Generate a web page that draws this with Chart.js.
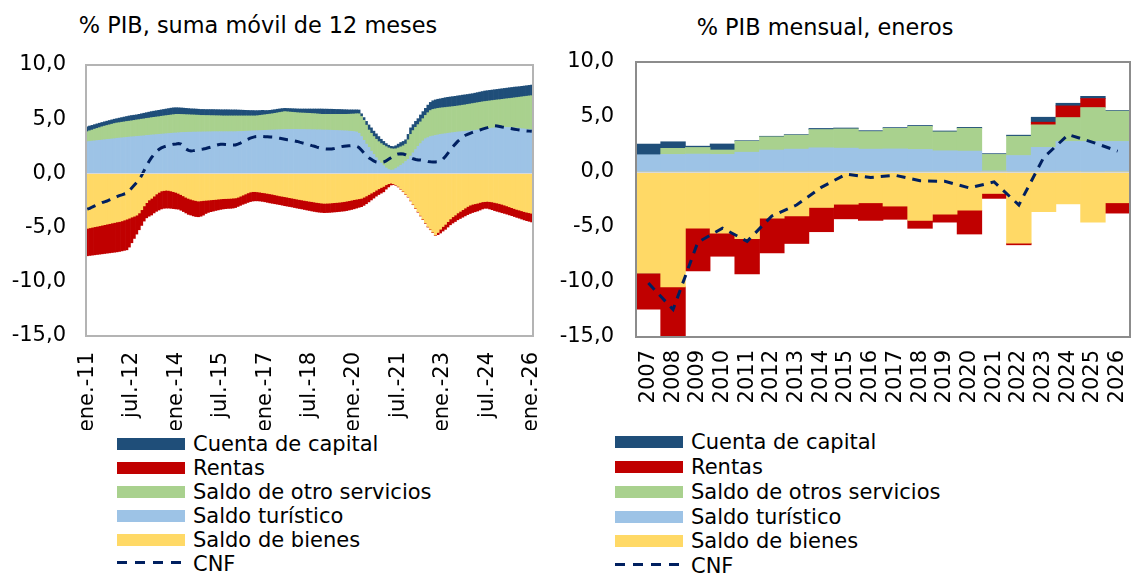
<!DOCTYPE html>
<html lang="es">
<head>
<meta charset="utf-8">
<title>Saldos de la cuenta corriente y de capital</title>
<script src="https://cdn.jsdelivr.net/npm/chart.js@4.4.1/dist/chart.umd.min.js"></script>
<style>
  body { margin: 0; background: #fff; color: #000; font-family: 'DejaVu Sans', sans-serif; }
  #hoja { position: relative; width: 1131px; height: 575px; overflow: hidden; }
  canvas { position: absolute; top: 0; }
  .titulo { position: absolute; width: 420px; font-size: 22.4px; line-height: 22.4px; text-align: center; white-space: nowrap; }
  .fila { position: absolute; height: 24px; display: flex; align-items: center; font-size: 21px; white-space: nowrap; }
  .muestra { width: 68px; height: 12px; margin-right: 8px; flex: none; }
</style>
</head>
<body>
<div id="hoja">
  <div class="titulo" style="left:48px; top:14px;">% PIB, suma móvil de 12 meses</div>
  <div class="titulo" style="left:615px; top:16px;">% PIB mensual, eneros</div>
  <canvas id="movil" width="560" height="430" style="left:0"></canvas>
  <canvas id="eneros" width="571" height="430" style="left:560px"></canvas>
  <div id="leyendaMovil"></div>
  <div id="leyendaEneros"></div>
</div>
<script>
// ====== DATOS: SUMA MÓVIL DE 12 MESES (ene-11 a ene-26) ======
const meses = ["ene.", "feb.", "mar.", "abr.", "may.", "jun.", "jul.", "ago.", "sep.", "oct.", "nov.", "dic."];
const etiquetasMes = [];
for (let a = 2011; a <= 2026; a++) {
    meses.forEach(m => etiquetasMes.push(m + "-" + String(a).slice(2)));
}
etiquetasMes.length = 181;

const bienesM = [
    -5.07, -5.02, -4.97, -4.92, -4.88, -4.83, -4.78, -4.73, -4.68, -4.63, -4.58, -4.53,
    -4.48, -4.44, -4.38, -4.3, -4.22, -4.13, -4.03, -3.95, -3.85, -3.65, -3.35, -3.0,
    -2.7, -2.45, -2.3, -2.1, -1.9, -1.75, -1.62, -1.58, -1.55, -1.57, -1.62, -1.68,
    -1.75, -1.84, -1.95, -2.07, -2.2, -2.3, -2.38, -2.45, -2.5, -2.55, -2.53, -2.5,
    -2.48, -2.46, -2.44, -2.42, -2.4, -2.37, -2.35, -2.33, -2.32, -2.31, -2.3, -2.28,
    -2.26, -2.2, -2.1, -2.0, -1.9, -1.8, -1.72, -1.68, -1.68, -1.7, -1.73, -1.77,
    -1.8, -1.84, -1.88, -1.92, -1.97, -2.02, -2.07, -2.11, -2.15, -2.19, -2.24, -2.28,
    -2.32, -2.37, -2.41, -2.45, -2.49, -2.53, -2.57, -2.6, -2.64, -2.68, -2.71, -2.74,
    -2.76, -2.75, -2.74, -2.72, -2.7, -2.68, -2.66, -2.63, -2.6, -2.56, -2.52, -2.47,
    -2.42, -2.38, -2.34, -2.3, -2.2, -2.08, -1.95, -1.82, -1.7, -1.55, -1.42, -1.3,
    -1.2, -1.05, -0.95, -0.9, -0.95, -1.05, -1.2, -1.42, -1.65, -1.9, -2.15, -2.5,
    -2.85, -3.2, -3.53, -3.88, -4.22, -4.56, -4.9, -5.15, -5.42, -5.68, -5.45, -5.15,
    -4.9, -4.7, -4.45, -4.2, -4.0, -3.84, -3.65, -3.5, -3.35, -3.2, -3.05, -2.93,
    -2.85, -2.8, -2.75, -2.68, -2.62, -2.6, -2.58, -2.6, -2.63, -2.68, -2.73, -2.78,
    -2.85, -2.92, -3.0, -3.08, -3.16, -3.24, -3.32, -3.38, -3.45, -3.52, -3.58, -3.63,
    -3.68
];
const turismoM = [
    2.93, 2.95, 2.98, 3.0, 3.03, 3.05, 3.08, 3.1, 3.13, 3.15, 3.18, 3.2,
    3.24, 3.26, 3.28, 3.3, 3.33, 3.35, 3.37, 3.39, 3.41, 3.43, 3.45, 3.47,
    3.5, 3.52, 3.54, 3.56, 3.58, 3.6, 3.62, 3.64, 3.66, 3.68, 3.7, 3.72,
    3.73, 3.75, 3.77, 3.78, 3.79, 3.8, 3.8, 3.81, 3.81, 3.82, 3.82, 3.83,
    3.83, 3.84, 3.84, 3.85, 3.85, 3.85, 3.85, 3.85, 3.85, 3.85, 3.85, 3.85,
    3.85, 3.86, 3.87, 3.88, 3.89, 3.9, 3.91, 3.92, 3.93, 3.94, 3.95, 3.96,
    3.97, 3.98, 3.99, 4.0, 4.01, 4.02, 4.03, 4.04, 4.05, 4.06, 4.06, 4.06,
    4.06, 4.06, 4.05, 4.05, 4.05, 4.04, 4.04, 4.03, 4.03, 4.02, 4.02, 4.01,
    4.0, 4.0, 3.99, 3.98, 3.97, 3.96, 3.95, 3.94, 3.93, 3.92, 3.9, 3.88,
    3.86, 3.82, 3.7, 3.4, 3.05, 2.7, 2.4, 2.05, 1.75, 1.45, 1.2, 0.95,
    0.72, 0.5, 0.35, 0.3, 0.32, 0.45, 0.6, 0.75, 0.9, 1.1, 1.3, 1.6,
    1.9, 2.2, 2.5, 2.75, 3.0, 3.2, 3.3, 3.4, 3.45, 3.5, 3.55, 3.6,
    3.63, 3.66, 3.7, 3.73, 3.76, 3.79, 3.82, 3.84, 3.86, 3.88, 3.9, 3.92,
    3.95, 3.98, 4.0, 4.03, 4.06, 4.09, 4.12, 4.15, 4.18, 4.2, 4.22, 4.24,
    4.25, 4.25, 4.24, 4.23, 4.22, 4.2, 4.18, 4.15, 4.12, 4.1, 4.07, 4.05,
    4.02
];
const otrosM = [
    0.92, 0.98, 1.02, 1.08, 1.12, 1.17, 1.22, 1.26, 1.29, 1.33, 1.36, 1.4,
    1.41, 1.42, 1.44, 1.45, 1.46, 1.47, 1.48, 1.5, 1.52, 1.53, 1.55, 1.56,
    1.57, 1.58, 1.6, 1.61, 1.62, 1.63, 1.65, 1.66, 1.67, 1.68, 1.69, 1.7,
    1.72, 1.7, 1.67, 1.65, 1.63, 1.61, 1.6, 1.58, 1.57, 1.55, 1.53, 1.52,
    1.51, 1.5, 1.49, 1.48, 1.47, 1.47, 1.46, 1.45, 1.45, 1.45, 1.45, 1.45,
    1.45, 1.44, 1.43, 1.42, 1.41, 1.4, 1.39, 1.38, 1.37, 1.38, 1.4, 1.42,
    1.44, 1.46, 1.48, 1.5, 1.53, 1.56, 1.59, 1.62, 1.65, 1.62, 1.6, 1.58,
    1.56, 1.54, 1.53, 1.52, 1.51, 1.51, 1.5, 1.49, 1.48, 1.47, 1.45, 1.44,
    1.45, 1.45, 1.46, 1.47, 1.48, 1.49, 1.5, 1.51, 1.52, 1.53, 1.56, 1.59,
    1.62, 1.68, 1.8, 1.85, 1.85, 1.75, 1.6, 1.65, 1.65, 1.7, 1.73, 1.8,
    1.88, 1.97, 2.0, 1.98, 1.93, 1.82, 1.75, 1.7, 1.65, 1.6, 1.8, 2.0,
    2.05, 2.05, 2.0, 2.0, 2.05, 2.15, 2.3, 2.4, 2.45, 2.45, 2.45, 2.43,
    2.43, 2.42, 2.41, 2.4, 2.4, 2.4, 2.4, 2.41, 2.43, 2.44, 2.46, 2.48,
    2.49, 2.5, 2.52, 2.53, 2.54, 2.54, 2.54, 2.54, 2.54, 2.55, 2.56, 2.56,
    2.58, 2.61, 2.65, 2.68, 2.72, 2.77, 2.82, 2.88, 2.94, 2.99, 3.05, 3.1,
    3.15
];
const rentasM = [
    -2.53, -2.55, -2.57, -2.59, -2.6, -2.62, -2.64, -2.66, -2.68, -2.7, -2.72, -2.74,
    -2.76, -2.76, -2.77, -2.8, -2.83, -2.67, -2.37, -2.05, -1.75, -1.55, -1.45, -1.4,
    -1.4, -1.5, -1.54, -1.55, -1.6, -1.63, -1.66, -1.64, -1.65, -1.63, -1.6, -1.57,
    -1.53, -1.46, -1.45, -1.45, -1.45, -1.48, -1.46, -1.47, -1.48, -1.45, -1.42, -1.35,
    -1.22, -1.14, -1.09, -1.06, -1.02, -1.0, -0.97, -0.95, -0.93, -0.92, -0.92, -0.92,
    -0.89, -0.85, -0.85, -0.85, -0.87, -0.88, -0.88, -0.87, -0.85, -0.83, -0.82, -0.81,
    -0.82, -0.83, -0.84, -0.84, -0.83, -0.82, -0.81, -0.82, -0.83, -0.83, -0.82, -0.82,
    -0.83, -0.83, -0.83, -0.83, -0.84, -0.85, -0.85, -0.87, -0.87, -0.87, -0.87, -0.86,
    -0.86, -0.86, -0.86, -0.86, -0.86, -0.86, -0.86, -0.86, -0.87, -0.87, -0.86, -0.86,
    -0.85, -0.82, -0.79, -0.77, -0.75, -0.72, -0.68, -0.63, -0.58, -0.55, -0.53, -0.52,
    -0.5, -0.4, -0.3, -0.17, -0.08, -0.05, -0.05, -0.04, -0.04, -0.04, -0.04, -0.04,
    -0.04, -0.04, -0.05, -0.05, -0.05, -0.05, -0.05, -0.05, -0.05, -0.04, -0.2, -0.35,
    -0.42, -0.46, -0.5, -0.54, -0.58, -0.6, -0.63, -0.66, -0.69, -0.72, -0.75, -0.77,
    -0.76, -0.74, -0.72, -0.7, -0.66, -0.62, -0.64, -0.68, -0.72, -0.75, -0.77, -0.78,
    -0.78, -0.77, -0.76, -0.75, -0.74, -0.74, -0.74, -0.75, -0.76, -0.77, -0.78, -0.79,
    -0.8
];
const capitalM = [
    0.45, 0.44, 0.43, 0.42, 0.42, 0.41, 0.4, 0.4, 0.4, 0.4, 0.4, 0.4,
    0.4, 0.42, 0.43, 0.45, 0.46, 0.48, 0.49, 0.48, 0.47, 0.49, 0.5, 0.52,
    0.53, 0.55, 0.56, 0.57, 0.58, 0.59, 0.59, 0.6, 0.61, 0.62, 0.63, 0.63,
    0.61, 0.6, 0.6, 0.59, 0.58, 0.57, 0.56, 0.56, 0.56, 0.55, 0.55, 0.55,
    0.55, 0.55, 0.56, 0.56, 0.56, 0.56, 0.56, 0.57, 0.57, 0.57, 0.56, 0.56,
    0.56, 0.55, 0.54, 0.53, 0.52, 0.51, 0.5, 0.5, 0.49, 0.47, 0.45, 0.44,
    0.39, 0.36, 0.35, 0.35, 0.34, 0.34, 0.33, 0.32, 0.3, 0.31, 0.32, 0.33,
    0.34, 0.35, 0.36, 0.37, 0.38, 0.39, 0.4, 0.42, 0.43, 0.45, 0.47, 0.49,
    0.48, 0.48, 0.47, 0.47, 0.46, 0.45, 0.45, 0.44, 0.43, 0.42, 0.4, 0.39,
    0.38, 0.36, 0.35, 0.25, 0.25, 0.35, 0.47, 0.5, 0.5, 0.5, 0.47, 0.4,
    0.35, 0.28, 0.25, 0.22, 0.22, 0.28, 0.35, 0.4, 0.4, 0.4, 0.5, 0.6,
    0.55, 0.55, 0.55, 0.64, 0.65, 0.65, 0.7, 0.75, 0.8, 0.83, 0.84, 0.85,
    0.87, 0.9, 0.91, 0.92, 0.92, 0.92, 0.93, 0.93, 0.93, 0.93, 0.92, 0.92,
    0.91, 0.92, 0.93, 0.94, 0.95, 0.97, 0.97, 0.97, 0.97, 0.97, 0.97, 0.98,
    0.98, 0.98, 0.98, 0.99, 0.99, 0.99, 0.98, 0.97, 0.97, 0.97, 0.97, 0.97,
    0.98
];
const cnfM = [
    -3.3, -3.22, -3.1, -3.0, -2.9, -2.8, -2.7, -2.62, -2.55, -2.45, -2.35, -2.25,
    -2.15, -2.05, -1.98, -1.9, -1.84, -1.6, -1.35, -1.1, -0.85, -0.6, -0.2, 0.25,
    0.7, 1.1, 1.45, 1.75, 2.0, 2.2, 2.35, 2.45, 2.52, 2.58, 2.65, 2.7,
    2.72, 2.76, 2.7, 2.5, 2.25, 2.12, 2.07, 2.1, 2.14, 2.18, 2.22, 2.25,
    2.3, 2.36, 2.42, 2.5, 2.58, 2.64, 2.68, 2.68, 2.66, 2.64, 2.63, 2.62,
    2.62, 2.7, 2.8, 2.92, 3.05, 3.15, 3.25, 3.32, 3.39, 3.41, 3.42, 3.4,
    3.38, 3.37, 3.36, 3.35, 3.32, 3.28, 3.24, 3.2, 3.15, 3.1, 3.08, 3.05,
    3.0, 2.95, 2.88, 2.82, 2.76, 2.7, 2.64, 2.56, 2.5, 2.42, 2.35, 2.3,
    2.27, 2.25, 2.24, 2.26, 2.3, 2.36, 2.42, 2.47, 2.5, 2.52, 2.54, 2.56,
    2.56, 2.5, 2.4, 2.15, 1.9, 1.65, 1.45, 1.3, 1.15, 1.05, 1.0, 1.0,
    1.05, 1.15, 1.3, 1.45, 1.6, 1.72, 1.8, 1.82, 1.79, 1.7, 1.58, 1.45,
    1.35, 1.28, 1.24, 1.23, 1.2, 1.15, 1.1, 1.07, 1.05, 1.06, 1.08, 1.15,
    1.3, 1.55, 1.85, 2.15, 2.45, 2.7, 2.95, 3.15, 3.35, 3.5, 3.6, 3.7,
    3.78, 3.86, 3.93, 4.0, 4.08, 4.15, 4.22, 4.3, 4.36, 4.4, 4.38, 4.33,
    4.28, 4.24, 4.2, 4.16, 4.12, 4.08, 4.04, 4.0, 3.97, 3.94, 3.92, 3.9,
    3.88
];

// ====== DATOS: ENEROS (% PIB MENSUAL) ======
const anios = ["2007", "2008", "2009", "2010", "2011", "2012", "2013", "2014", "2015", "2016",
               "2017", "2018", "2019", "2020", "2021", "2022", "2023", "2024", "2025", "2026"];
const bienesE   = [-9.18, -10.45, -5.1, -5.56, -6.07, -4.2, -4.0, -3.23, -2.93, -2.8,
                   -3.1, -4.4, -3.84, -3.47, -1.95, -6.47, -3.6, -2.9, -4.56, -2.8];
const turismoE  = [1.57, 1.6, 1.63, 1.6, 1.8, 2.0, 2.08, 2.2, 2.17, 2.08,
                   2.1, 2.05, 1.93, 1.9, 0.1, 1.5, 2.24, 2.78, 2.78, 2.78];
const otrosE    = [0, 0.55, 0.6, 0.4, 1.0, 1.2, 1.27, 1.66, 1.75, 1.6,
                   1.87, 2.1, 1.72, 2.08, 1.5, 1.75, 2.05, 2.17, 3.08, 2.75];
const rentasE   = [-3.3, -4.9, -3.9, -2.1, -3.2, -3.15, -2.5, -2.2, -1.33, -1.6,
                   -1.2, -0.72, -0.72, -2.17, -0.45, -0.15, 0.24, 1.06, 0.82, -0.94];
const capitalE  = [0.97, 0.6, 0.12, 0.55, 0.05, 0.05, 0.05, 0.1, 0.08, 0.08,
                   0.07, 0.08, 0.08, 0.08, 0.07, 0.1, 0.45, 0.24, 0.2, 0.06];
const cnfE      = [-10.1, -12.5, -6.4, -5.1, -6.3, -4.0, -3.0, -1.4, -0.2, -0.5,
                   -0.3, -0.8, -0.85, -1.45, -0.9, -3.0, 1.3, 3.4, 2.7, 1.9];

// ====== ESTILO ======
const colores = {
    bienes: "#FFD966",
    turismo: "#9DC3E6",
    otros: "#A9D18E",
    rentas: "#C00000",
    capital: "#1F4E79",
    cnf: "#002060"
};

Chart.defaults.font.family = "'DejaVu Sans', sans-serif";
Chart.defaults.font.size = 21;
Chart.defaults.color = "#000";

function barras(etiqueta, datos, color) {
    return {
        type: "bar", label: etiqueta, data: datos, backgroundColor: color,
        borderWidth: 0, barPercentage: 1, categoryPercentage: 1, stack: "saldo"
    };
}

function lineaCNF(datos, guion) {
    return {
        type: "line", label: "CNF", data: datos, borderColor: colores.cnf, borderWidth: 3,
        borderDash: guion, pointRadius: 0, tension: 0, fill: false, stack: "cnf"
    };
}

// marco gris del área de trazado y línea del cero
const marco = {
    id: "marco",
    afterDatasetsDraw(chart, args, opts) {
        const { ctx, chartArea: a, scales: { y } } = chart;
        const y0 = Math.round(y.getPixelForValue(0)) + 0.5;
        ctx.save();
        ctx.strokeStyle = "#d9d9d9";
        ctx.lineWidth = 1;
        ctx.beginPath();
        ctx.moveTo(a.left, y0);
        ctx.lineTo(a.right, y0);
        ctx.stroke();
        ctx.strokeStyle = opts.color;
        ctx.lineWidth = 2;
        ctx.strokeRect(a.left, a.top, a.right - a.left, a.bottom - a.top);
        ctx.restore();
    }
};

function escalas(anchoY, altoX, sepY, sepX, etiquetaX) {
    return {
        x: {
            stacked: true,
            grid: { display: false, drawTicks: false },
            border: { display: false },
            ticks: { autoSkip: false, minRotation: 90, maxRotation: 90, padding: sepX, callback: etiquetaX },
            // sin margen extra a los lados por las etiquetas giradas
            afterFit: s => { s.height = altoX; s.paddingLeft = 0; s.paddingRight = 0; }
        },
        y: {
            stacked: true, min: -15, max: 10,
            grid: { display: false, drawTicks: false },
            border: { display: false },
            ticks: { stepSize: 5, padding: sepY, callback: v => v.toFixed(1).replace(".", ",") },
            afterFit: s => { s.width = anchoY; s.paddingTop = 0; s.paddingBottom = 0; }
        }
    };
}

function opciones(relleno, ejes, colorMarco) {
    return {
        responsive: false,
        animation: false,
        layout: { padding: relleno },
        plugins: { legend: { display: false }, tooltip: { enabled: false }, marco: { color: colorMarco } },
        scales: ejes
    };
}

// ====== GRÁFICO IZQUIERDO: SUMA MÓVIL ======
const movil = new Chart(document.getElementById("movil"), {
    data: {
        labels: etiquetasMes,
        datasets: [
            lineaCNF(cnfM, [9, 7]),
            barras("Saldo de bienes", bienesM, colores.bienes),
            barras("Saldo turístico", turismoM, colores.turismo),
            barras("Saldo de otro servicios", otrosM, colores.otros),
            barras("Rentas", rentasM, colores.rentas),
            barras("Cuenta de capital", capitalM, colores.capital)
        ]
    },
    options: opciones({ top: 65, right: 27, left: 0, bottom: 0 },
        escalas(86, 94, 20, 16, (v, i) => (i % 18 === 0 ? etiquetasMes[i] : null)), "#b4b4b4"),
    plugins: [marco]
});

// ====== GRÁFICO DERECHO: ENEROS ======
const eneros = new Chart(document.getElementById("eneros"), {
    data: {
        labels: anios,
        datasets: [
            lineaCNF(cnfE, [9, 7]),
            barras("Saldo de bienes", bienesE, colores.bienes),
            barras("Saldo turístico", turismoE, colores.turismo),
            barras("Saldo de otros servicios", otrosE, colores.otros),
            barras("Rentas", rentasE, colores.rentas),
            barras("Cuenta de capital", capitalE, colores.capital)
        ]
    },
    options: opciones({ top: 62, right: 1, left: 0, bottom: 0 },
        escalas(76, 93, 22, 13, (v, i) => anios[i]), "#8c8c8c"),
    plugins: [marco]
});

// ====== LEYENDAS (una serie por fila) ======
function leyenda(chart, contenedor, x, yCentro, paso) {
    const el = document.getElementById(contenedor);
    [5, 4, 3, 2, 1, 0].forEach((i, fila) => {
        const ds = chart.data.datasets[i];
        const div = document.createElement("div");
        div.className = "fila";
        div.style.left = x + "px";
        div.style.top = (yCentro + fila * paso - 12) + "px";
        let muestra;
        if (ds.type === "line") {
            muestra = '<svg class="muestra" viewBox="0 0 68 12"><line x1="0" y1="4.5" x2="66" y2="4.5" stroke="' +
                ds.borderColor + '" stroke-width="3" stroke-dasharray="10 8"/></svg>';
        } else {
            muestra = '<span class="muestra" style="background:' + ds.backgroundColor + '"></span>';
        }
        div.innerHTML = muestra + "<span>" + ds.label + "</span>";
        el.appendChild(div);
    });
}

leyenda(movil, "leyendaMovil", 117, 444.3, 24);
leyenda(eneros, "leyendaEneros", 615, 442.2, 24.8);
</script>
</body>
</html>
